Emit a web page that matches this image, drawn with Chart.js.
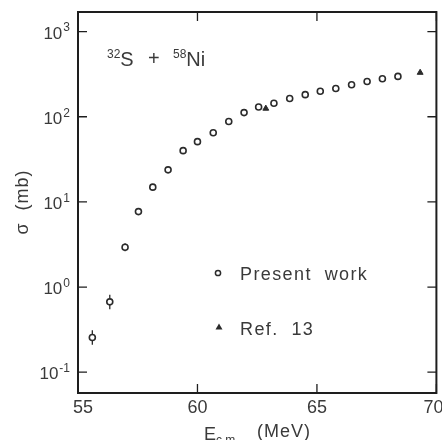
<!DOCTYPE html>
<html>
<head>
<meta charset="utf-8">
<script src="https://cdn.jsdelivr.net/npm/chart.js@4.4.1/dist/chart.umd.min.js"></script>
<style>
  html, body { margin: 0; padding: 0; background: #fff; }
  #wrap { width: 442px; height: 440px; }
</style>
</head>
<body>
<div id="wrap"><canvas id="xsec" width="442" height="440"></canvas></div>
<script>
// 32S + 58Ni fusion cross sections
var presentE = [55.60, 56.33, 56.97, 57.53, 58.13, 58.77, 59.40, 60.00, 60.66, 61.31, 61.95,
                62.56, 63.20, 63.86, 64.51, 65.14, 65.79, 66.45, 67.10, 67.74, 68.39];
var presentSigma = [0.256, 0.67, 2.93, 7.7, 14.9, 23.8, 40, 51, 65, 88, 112,
                    130, 144, 164, 182, 199, 215, 238, 260, 280, 298];
// error bars (only visible on the lowest points)
var presentErrLow  = [0.21, 0.55, 2.63, 7.1, null, null, null, null, null, null, null,
                      null, null, null, null, null, null, null, null, null, null];
var presentErrHigh = [0.31, 0.81, 3.27, 8.35, null, null, null, null, null, null, null,
                      null, null, null, null, null, null, null, null, null, null];
var refE = [62.86, 69.32];
var refSigma = [125, 330];

var xTicks = [55, 60, 65, 70];
var yTicks = [0.1, 1, 10, 100, 1000];
var yTickExp = ["-1", "0", "1", "2", "3"];

var ink = "#2b2b2b";
var font = "'Liberation Sans', Arial, sans-serif";

function toPoints(xs, ys) {
    var pts = [];
    for (var i = 0; i < xs.length; i++) pts.push({ x: xs[i], y: ys[i] });
    return pts;
}

// draw "base" + superscript, returns width
function supText(ctx, base, sup, x, y, size, supSize, align) {
    ctx.font = size + "px " + font;
    var wb = ctx.measureText(base).width;
    ctx.font = supSize + "px " + font;
    var ws = ctx.measureText(sup).width;
    var x0 = align === "right" ? x - wb - ws - 1 : x;
    ctx.textAlign = "left";
    ctx.textBaseline = "alphabetic";
    ctx.font = size + "px " + font;
    ctx.fillText(base, x0, y);
    ctx.font = supSize + "px " + font;
    ctx.fillText(sup, x0 + wb + 1, y - size * 0.42);
    return wb + ws + 1;
}

var errorBars = {
    id: "errorBars",
    beforeDatasetsDraw: function (chart) {
        var ctx = chart.ctx, xs = chart.scales.x, ys = chart.scales.y;
        ctx.save();
        ctx.strokeStyle = ink;
        ctx.lineWidth = 1.3;
        for (var i = 0; i < presentE.length; i++) {
            if (presentErrLow[i] == null) continue;
            var px = xs.getPixelForValue(presentE[i]);
            ctx.beginPath();
            ctx.moveTo(px, ys.getPixelForValue(presentErrLow[i]));
            ctx.lineTo(px, ys.getPixelForValue(presentErrHigh[i]));
            ctx.stroke();
        }
        ctx.restore();
    }
};

var frameAndText = {
    id: "frameAndText",
    afterDraw: function (chart) {
        var ctx = chart.ctx, a = chart.chartArea;
        var xs = chart.scales.x, ys = chart.scales.y;
        var tl = 9;
        ctx.save();
        // frame
        ctx.strokeStyle = "#1e1e1e";
        ctx.lineWidth = 2;
        ctx.strokeRect(a.left, a.top, a.right - a.left, a.bottom - a.top);
        // inward ticks
        ctx.lineWidth = 1.3;
        ctx.beginPath();
        xTicks.forEach(function (v) {
            var px = xs.getPixelForValue(v);
            ctx.moveTo(px, a.bottom); ctx.lineTo(px, a.bottom - tl);
            ctx.moveTo(px, a.top); ctx.lineTo(px, a.top + tl);
        });
        yTicks.forEach(function (v) {
            var py = ys.getPixelForValue(v);
            ctx.moveTo(a.left, py); ctx.lineTo(a.left + tl, py);
            ctx.moveTo(a.right, py); ctx.lineTo(a.right - tl, py);
        });
        ctx.stroke();

        ctx.fillStyle = "#3a3a3a";
        // x tick labels
        ctx.font = "18px " + font;
        ctx.textAlign = "center";
        ctx.textBaseline = "middle";
        xTicks.forEach(function (v, i) {
            var nudge = i === 0 ? 5 : (i === xTicks.length - 1 ? -3 : 0);
            ctx.fillText(String(v), xs.getPixelForValue(v) + nudge, a.bottom + 15);
        });
        // y tick labels
        yTicks.forEach(function (v, i) {
            supText(ctx, "10", yTickExp[i], 70, ys.getPixelForValue(v) + 7, 17, 12, "right");
        });

        // x title: E_c.m. (MeV)
        ctx.textAlign = "left";
        ctx.textBaseline = "alphabetic";
        ctx.font = "18px " + font;
        ctx.fillText("E", 204, 440);
        ctx.font = "12px " + font;
        ctx.fillText("c.m.", 216, 444);
        ctx.font = "18px " + font;
        ctx.letterSpacing = "1px";
        ctx.fillText("(MeV)", 257, 437);
        ctx.letterSpacing = "0px";

        // y title: sigma (mb)
        ctx.save();
        ctx.translate(28, 202);
        ctx.rotate(-Math.PI / 2);
        ctx.textAlign = "center";
        ctx.font = "18px " + font;
        ctx.letterSpacing = "1px";
        ctx.fillText("\u03c3  (mb)", 0, 0);
        ctx.restore();

        // reaction label
        var x0 = 106, yb = 66;
        x0 += supText(ctx, "", "32", x0, yb, 20, 12, "left");
        ctx.font = "20px " + font;
        ctx.fillText("S", x0, yb);
        ctx.fillText("+", 148, yb - 1);
        x0 = 172;
        x0 += supText(ctx, "", "58", x0, yb, 20, 12, "left");
        ctx.font = "20px " + font;
        ctx.fillText("Ni", x0, yb);

        // legend
        ctx.strokeStyle = ink;
        ctx.lineWidth = 1.5;
        ctx.beginPath();
        ctx.arc(218, 273, 2.6, 0, Math.PI * 2);
        ctx.stroke();
        ctx.fillStyle = ink;
        ctx.beginPath();
        ctx.moveTo(215.5, 329.5); ctx.lineTo(222.5, 329.5); ctx.lineTo(219, 323.5);
        ctx.closePath();
        ctx.fill();
        ctx.fillStyle = "#3a3a3a";
        ctx.font = "18px " + font;
        ctx.letterSpacing = "1.4px";
        ctx.fillText("Present  work", 240, 280);
        ctx.fillText("Ref.  13", 240, 335);
        ctx.letterSpacing = "0px";
        ctx.restore();
    }
};

var ctx = document.getElementById("xsec");
var chart = new Chart(ctx, {
    type: "scatter",
    data: {
        datasets: [{
            label: "Present work",
            data: toPoints(presentE, presentSigma),
            pointStyle: "circle",
            pointRadius: 3,
            borderWidth: 1.6,
            borderColor: ink,
            backgroundColor: "#fff"
        }, {
            label: "Ref. 13",
            data: toPoints(refE, refSigma),
            pointStyle: "triangle",
            pointRadius: 3.4,
            borderWidth: 1,
            borderColor: ink,
            backgroundColor: ink
        }]
    },
    options: {
        responsive: false,
        animation: false,
        devicePixelRatio: 1,
        layout: { padding: { left: 78, right: 3, top: 12, bottom: 47 } },
        plugins: {
            legend: { display: false },
            tooltip: { enabled: false }
        },
        scales: {
            x: { type: "linear", min: 55, max: 70, display: false },
            y: { type: "logarithmic", min: 0.057, max: 1700, display: false }
        }
    },
    plugins: [errorBars, frameAndText]
});
</script>
</body>
</html>
